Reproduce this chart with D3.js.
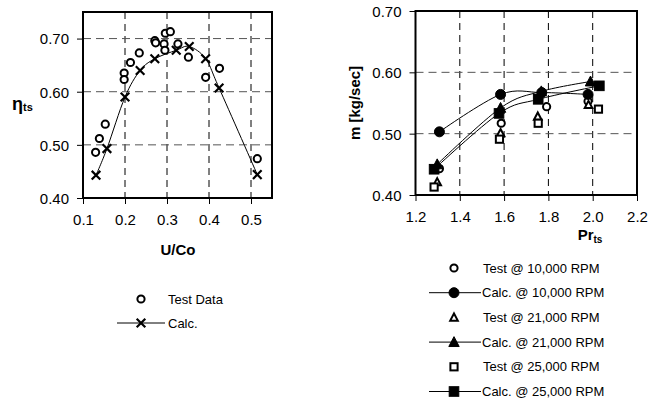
<!DOCTYPE html>
<html>
<head>
<meta charset="utf-8">
<script src="https://cdn.jsdelivr.net/npm/d3@7"></script>
<style>
  body { margin: 0; background: #fff; }
  svg { font-family: "Liberation Sans", Arial, sans-serif; }
</style>
</head>
<body>
<div id="chart"></div>
<script>
// left chart: efficiency vs velocity ratio
const testU   = [0.130, 0.139, 0.153, 0.198, 0.198, 0.213, 0.234, 0.271, 0.273, 0.293, 0.295, 0.296, 0.308, 0.326, 0.351, 0.392, 0.425, 0.515];
const testEta = [0.486, 0.512, 0.539, 0.635, 0.623, 0.655, 0.673, 0.696, 0.692, 0.690, 0.678, 0.710, 0.713, 0.690, 0.665, 0.627, 0.644, 0.474];
const calcU   = [0.131, 0.157, 0.200, 0.236, 0.271, 0.322, 0.353, 0.392, 0.424, 0.515];
const calcEta = [0.443, 0.493, 0.590, 0.640, 0.662, 0.678, 0.685, 0.662, 0.607, 0.444];
const uTicks   = [0.1, 0.2, 0.3, 0.4, 0.5];
const etaTicks = [0.4, 0.5, 0.6, 0.7];

// right chart: mass flow vs pressure ratio
const pr10Test = [1.308, 1.587, 1.792, 1.979], m10Test = [0.443, 0.517, 0.544, 0.553];
const pr10Calc = [1.308, 1.584, 1.770, 1.979], m10Calc = [0.503, 0.564, 0.567, 0.564];
const pr21Test = [1.298, 1.584, 1.752, 1.981], m21Test = [0.421, 0.501, 0.528, 0.547];
const pr21Calc = [1.298, 1.584, 1.768, 1.990], m21Calc = [0.450, 0.542, 0.569, 0.585];
const pr25Test = [1.284, 1.579, 1.754, 2.026], m25Test = [0.413, 0.491, 0.517, 0.540];
const pr25Calc = [1.284, 1.577, 1.754, 2.030], m25Calc = [0.442, 0.533, 0.556, 0.578];
const prTicks = [1.2, 1.4, 1.6, 1.8, 2.0, 2.2];
const mTicks  = [0.4, 0.5, 0.6, 0.7];

const seriesR = [
  {name: "Test @ 10,000 RPM",  x: pr10Test, y: m10Test, shape: "circle",   filled: false, line: false},
  {name: "Calc. @ 10,000 RPM", x: pr10Calc, y: m10Calc, shape: "circle",   filled: true,  line: true},
  {name: "Test @ 21,000 RPM",  x: pr21Test, y: m21Test, shape: "triangle", filled: false, line: false},
  {name: "Calc. @ 21,000 RPM", x: pr21Calc, y: m21Calc, shape: "triangle", filled: true,  line: true},
  {name: "Test @ 25,000 RPM",  x: pr25Test, y: m25Test, shape: "square",   filled: false, line: false},
  {name: "Calc. @ 25,000 RPM", x: pr25Calc, y: m25Calc, shape: "square",   filled: true,  line: true}
];

const W = 662, H = 403;
const svg = d3.select("#chart").append("svg")
    .attr("width", W).attr("height", H);
svg.append("rect").attr("width", W).attr("height", H).attr("fill", "#fff");

// draws one marker centred at (0,0) inside g
function marker(g, shape, filled) {
    const sw = filled ? 1 : 2;
    const fill = filled ? "#000" : "#fff";
    if (shape === "circle") {
        g.append("circle").attr("r", filled ? 5 : 3.6)
            .attr("fill", fill).attr("stroke", "#000").attr("stroke-width", sw);
    } else if (shape === "triangle") {
        const s = filled ? 5.2 : 3.8;
        g.append("path").attr("d", `M0,${-s * 1.05}L${s},${s * 0.85}L${-s},${s * 0.85}Z`)
            .attr("fill", fill).attr("stroke", "#000").attr("stroke-width", sw)
            .attr("stroke-linejoin", "miter");
    } else if (shape === "square") {
        const s = filled ? 4.8 : 3.6;
        g.append("rect").attr("x", -s).attr("y", -s).attr("width", 2 * s).attr("height", 2 * s)
            .attr("fill", fill).attr("stroke", "#000").attr("stroke-width", sw);
    } else if (shape === "x") {
        const s = 4.3;
        g.append("path").attr("d", `M${-s},${-s}L${s},${s}M${-s},${s}L${s},${-s}`)
            .attr("stroke", "#000").attr("stroke-width", 2.2).attr("fill", "none");
    }
}

function frame(g, x, y, xTicks, yTicks, xFmt) {
    const [x0, x1] = x.range(), [y0, y1] = y.range();
    // dashed grid
    g.selectAll(".vg").data(xTicks.filter(d => d > x.domain()[0] && d < x.domain()[1]))
        .enter().append("line")
        .attr("x1", d => x(d)).attr("x2", d => x(d)).attr("y1", y1).attr("y2", y0)
        .attr("stroke", "#000").attr("stroke-dasharray", "7,5");
    g.selectAll(".hg").data(yTicks.filter(d => d > y.domain()[0] && d < y.domain()[1]))
        .enter().append("line")
        .attr("y1", d => y(d)).attr("y2", d => y(d)).attr("x1", x0).attr("x2", x1)
        .attr("stroke", "#555").attr("stroke-dasharray", "8,5");

    const xa = g.append("g").attr("transform", `translate(0,${y0})`)
        .call(d3.axisBottom(x).tickValues(xTicks).tickFormat(d3.format(xFmt)).tickSize(6).tickPadding(10));
    const ya = g.append("g").attr("transform", `translate(${x0},0)`)
        .call(d3.axisLeft(y).tickValues(yTicks).tickFormat(d3.format(".2f")).tickSize(6).tickPadding(8));
    [xa, ya].forEach(a => {
        a.select(".domain").remove();
        a.selectAll("text").attr("font-size", 15).attr("fill", "#000")
            .attr("font-family", "Liberation Sans, Arial, sans-serif");
        a.selectAll("line").attr("stroke", "#000");
    });
    ya.selectAll("text").attr("dy", "0.36em");
    g.append("rect").attr("x", x0).attr("y", y1).attr("width", x1 - x0).attr("height", y0 - y1)
        .attr("fill", "none").attr("stroke", "#000").attr("stroke-width", 2);
}

const smooth = d3.line().curve(d3.curveCardinal.tension(0));

// ---------- left chart ----------
const xL = d3.scaleLinear().domain([0.1, 0.55]).range([83, 272]);
const yL = d3.scaleLinear().domain([0.4, 0.75]).range([198, 12]);
const gL = svg.append("g");
frame(gL, xL, yL, uTicks, etaTicks, ".1f");

gL.append("path")
    .attr("d", smooth(calcU.map((u, i) => [xL(u), yL(calcEta[i])])))
    .attr("fill", "none").attr("stroke", "#000").attr("stroke-width", 1);
testU.forEach((u, i) => marker(gL.append("g").attr("transform", `translate(${xL(u)},${yL(testEta[i])})`), "circle", false));
calcU.forEach((u, i) => marker(gL.append("g").attr("transform", `translate(${xL(u)},${yL(calcEta[i])})`), "x", false));

gL.append("text").attr("x", 178).attr("y", 255).attr("text-anchor", "middle")
    .attr("font-size", 15).attr("font-weight", "bold").text("U/Co");
const etaLab = gL.append("text").attr("x", 12).attr("y", 110).attr("font-weight", "bold");
etaLab.append("tspan").attr("font-size", 18).text("η");
etaLab.append("tspan").attr("font-size", 11).attr("dy", 1).text("ts");

// left legend
const legL = gL.append("g");
marker(legL.append("g").attr("transform", "translate(141,299)"), "circle", false);
legL.append("text").attr("x", 168).attr("y", 299).attr("dy", "0.36em").attr("font-size", 13).text("Test Data");
legL.append("line").attr("x1", 117).attr("x2", 165).attr("y1", 323).attr("y2", 323).attr("stroke", "#000");
marker(legL.append("g").attr("transform", "translate(141,323)"), "x", false);
legL.append("text").attr("x", 168).attr("y", 323).attr("dy", "0.36em").attr("font-size", 13).text("Calc.");

// ---------- right chart ----------
const xR = d3.scaleLinear().domain([1.2, 2.2]).range([415.5, 637]);
const yR = d3.scaleLinear().domain([0.4, 0.7]).range([195, 11]);
const gR = svg.append("g");
frame(gR, xR, yR, prTicks, mTicks, ".1f");

seriesR.forEach(s => {
    if (s.line) {
        gR.append("path")
            .attr("d", smooth(s.x.map((v, i) => [xR(v), yR(s.y[i])])))
            .attr("fill", "none").attr("stroke", "#000").attr("stroke-width", 1);
    }
});
seriesR.forEach(s => {
    s.x.forEach((v, i) => marker(gR.append("g").attr("transform", `translate(${xR(v)},${yR(s.y[i])})`), s.shape, s.filled));
});

const prLab = gR.append("text").attr("x", 590).attr("y", 240).attr("text-anchor", "middle")
    .attr("font-weight", "bold");
prLab.append("tspan").attr("font-size", 15).text("Pr");
prLab.append("tspan").attr("font-size", 10).attr("dy", 3).text("ts");
gR.append("text").attr("transform", "translate(360,103) rotate(-90)").attr("text-anchor", "middle")
    .attr("font-size", 15).attr("font-weight", "bold").text("m [kg/sec]");

// right legend
const legR = gR.append("g");
seriesR.forEach((s, i) => {
    const yy = 268 + i * 24.7;
    if (s.line) {
        legR.append("line").attr("x1", 429).attr("x2", 481).attr("y1", yy).attr("y2", yy).attr("stroke", "#000");
    }
    marker(legR.append("g").attr("transform", `translate(454,${yy})`), s.shape, s.filled);
    legR.append("text").attr("x", s.line ? 482 : 483).attr("y", yy).attr("dy", "0.36em")
        .attr("font-size", 13).text(s.name);
});
</script>
</body>
</html>
